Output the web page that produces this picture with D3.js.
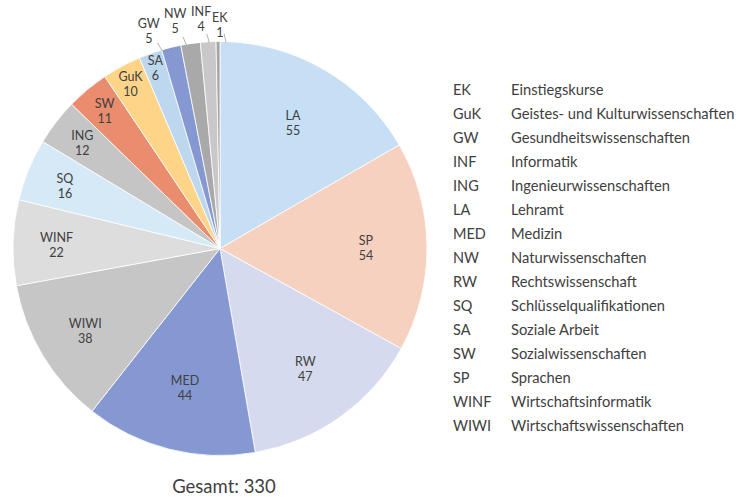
<html lang="de">
  <head>
    <meta charset="UTF-8" />
    <title>Pie</title>
    <script src="https://d3js.org/d3.v7.min.js"></script>
  </head>
  <body>
    <style>
      body {
        background-color: #ffffff;
        margin: 0;
        padding: 0;
        font-family: Lato, "Open Sans", sans-serif;
      }
      svg {
        display: block;
      }
      text {
        fill: #404040;
      }
    </style>
    <script>
      const w = 736;
      const h = 497;
      const cx = 220;
      const cy = 248.5;
      const radius = 207;

      // slices, clockwise from 12 o'clock
      const sliceKeys = ["LA", "SP", "RW", "MED", "WIWI", "WINF", "SQ", "ING", "SW", "GuK", "SA", "GW", "NW", "INF", "EK"];
      const sliceValues = [55, 54, 47, 44, 38, 22, 16, 12, 11, 10, 6, 5, 5, 4, 1];
      const sliceColors = ["#c6dff4", "#f7d1bf", "#d6daee", "#8598d1", "#c6c6c6", "#dddddd", "#d6e9f7", "#c5c5c5", "#e98d6e", "#fed588", "#bdd7ee", "#8598d1", "#a9a9a9", "#c8c8c8", "#a5a5a5"];

      // legend
      const legendKeys = ["EK", "GuK", "GW", "INF", "ING", "LA", "MED", "NW", "RW", "SQ", "SA", "SW", "SP", "WINF", "WIWI"];
      const legendNames = [
        "Einstiegskurse",
        "Geistes- und Kulturwissenschaften",
        "Gesundheitswissenschaften",
        "Informatik",
        "Ingenieurwissenschaften",
        "Lehramt",
        "Medizin",
        "Naturwissenschaften",
        "Rechtswissenschaft",
        "Schlüsselqualifikationen",
        "Soziale Arbeit",
        "Sozialwissenschaften",
        "Sprachen",
        "Wirtschaftsinformatik",
        "Wirtschaftswissenschaften",
      ];

      // label placement (fraction of radius) for inside labels, like Excel's best fit
      const insideRadius = { LA: 0.705, SP: 0.705, RW: 0.71, MED: 0.69, WIWI: 0.76, WINF: 0.79, SQ: 0.81, ING: 0.84, SW: 0.87, GuK: 0.91, SA: 0.93 };
      // small slices get their label outside: angle nudge (deg) and distance beyond the rim
      const outsidePlace = { GW: [-4.4, 23], NW: [-2.9, 26], INF: [-1.4, 24], EK: [0.5, 17.5] };

      const data = sliceKeys.map((k, i) => ({ key: k, value: sliceValues[i], color: sliceColors[i] }));
      const total = d3.sum(sliceValues);

      const svg = d3.select("body").append("svg").attr("width", w).attr("height", h);

      const pie = d3.pie().value((d) => d.value).sort(null);
      const arcs = pie(data);
      const arc = d3.arc().innerRadius(0).outerRadius(radius);

      const g = svg.append("g").attr("transform", `translate(${cx}, ${cy})`);

      g.selectAll("path")
        .data(arcs)
        .enter()
        .append("path")
        .attr("d", arc)
        .attr("fill", (d) => d.data.color)
        .attr("stroke", "#ffffff")
        .attr("stroke-width", 0.8);

      const polar = (a, r) => [Math.sin(a) * r, -Math.cos(a) * r];
      const mid = (d) => (d.startAngle + d.endAngle) / 2;

      const inside = arcs.filter((d) => !(d.data.key in outsidePlace));
      const outside = arcs.filter((d) => d.data.key in outsidePlace);

      const insideLabels = g
        .selectAll(".inlabel")
        .data(inside)
        .enter()
        .append("text")
        .attr("class", "inlabel")
        .attr("text-anchor", "middle")
        .attr("font-size", 12.5)
        .attr("transform", (d) => `translate(${polar(mid(d), radius * insideRadius[d.data.key])})`);
      insideLabels.append("tspan").attr("x", 0).attr("dy", "-0.15em").text((d) => d.data.key);
      insideLabels.append("tspan").attr("x", 0).attr("dy", "1.2em").text((d) => d.data.value);

      const labelAngle = (d) => mid(d) + (outsidePlace[d.data.key][0] * Math.PI) / 180;

      g.selectAll(".leader")
        .data(outside)
        .enter()
        .append("line")
        .attr("class", "leader")
        .attr("x1", (d) => polar(labelAngle(d) + 0.03, radius - 1)[0])
        .attr("y1", (d) => polar(labelAngle(d) + 0.03, radius - 1)[1])
        .attr("x2", (d) => polar(labelAngle(d) + 0.02, radius + 8)[0])
        .attr("y2", (d) => polar(labelAngle(d) + 0.02, radius + 8)[1])
        .attr("stroke", "#b3b3b3")
        .attr("stroke-width", 1);

      const outLabels = g
        .selectAll(".outlabel")
        .data(outside)
        .enter()
        .append("text")
        .attr("class", "outlabel")
        .attr("text-anchor", "middle")
        .attr("font-size", 12.5)
        .attr("transform", (d) => `translate(${polar(labelAngle(d), radius + outsidePlace[d.data.key][1])})`);
      outLabels.append("tspan").attr("x", 0).attr("dy", "-0.15em").text((d) => d.data.key);
      outLabels.append("tspan").attr("x", 0).attr("dy", "1.2em").text((d) => d.data.value);

      // legend
      const legend = svg.append("g").attr("id", "legend");
      const rowY = d3.scalePoint().domain(legendKeys).range([90, 426]);
      const rows = legend
        .selectAll("g")
        .data(legendKeys)
        .enter()
        .append("g")
        .attr("transform", (d) => `translate(0, ${rowY(d)})`);
      rows.append("text").attr("x", 453).attr("dy", "0.35em").attr("font-size", 14.5).text((d) => d);
      rows
        .append("text")
        .attr("x", 511)
        .attr("dy", "0.35em")
        .attr("font-size", 14.7)
        .text((d, i) => legendNames[i]);

      svg
        .append("text")
        .attr("x", 224)
        .attr("y", 493)
        .attr("text-anchor", "middle")
        .attr("font-size", 18.5)
        .text(`Gesamt: ${total}`);
    </script>
  </body>
</html>
